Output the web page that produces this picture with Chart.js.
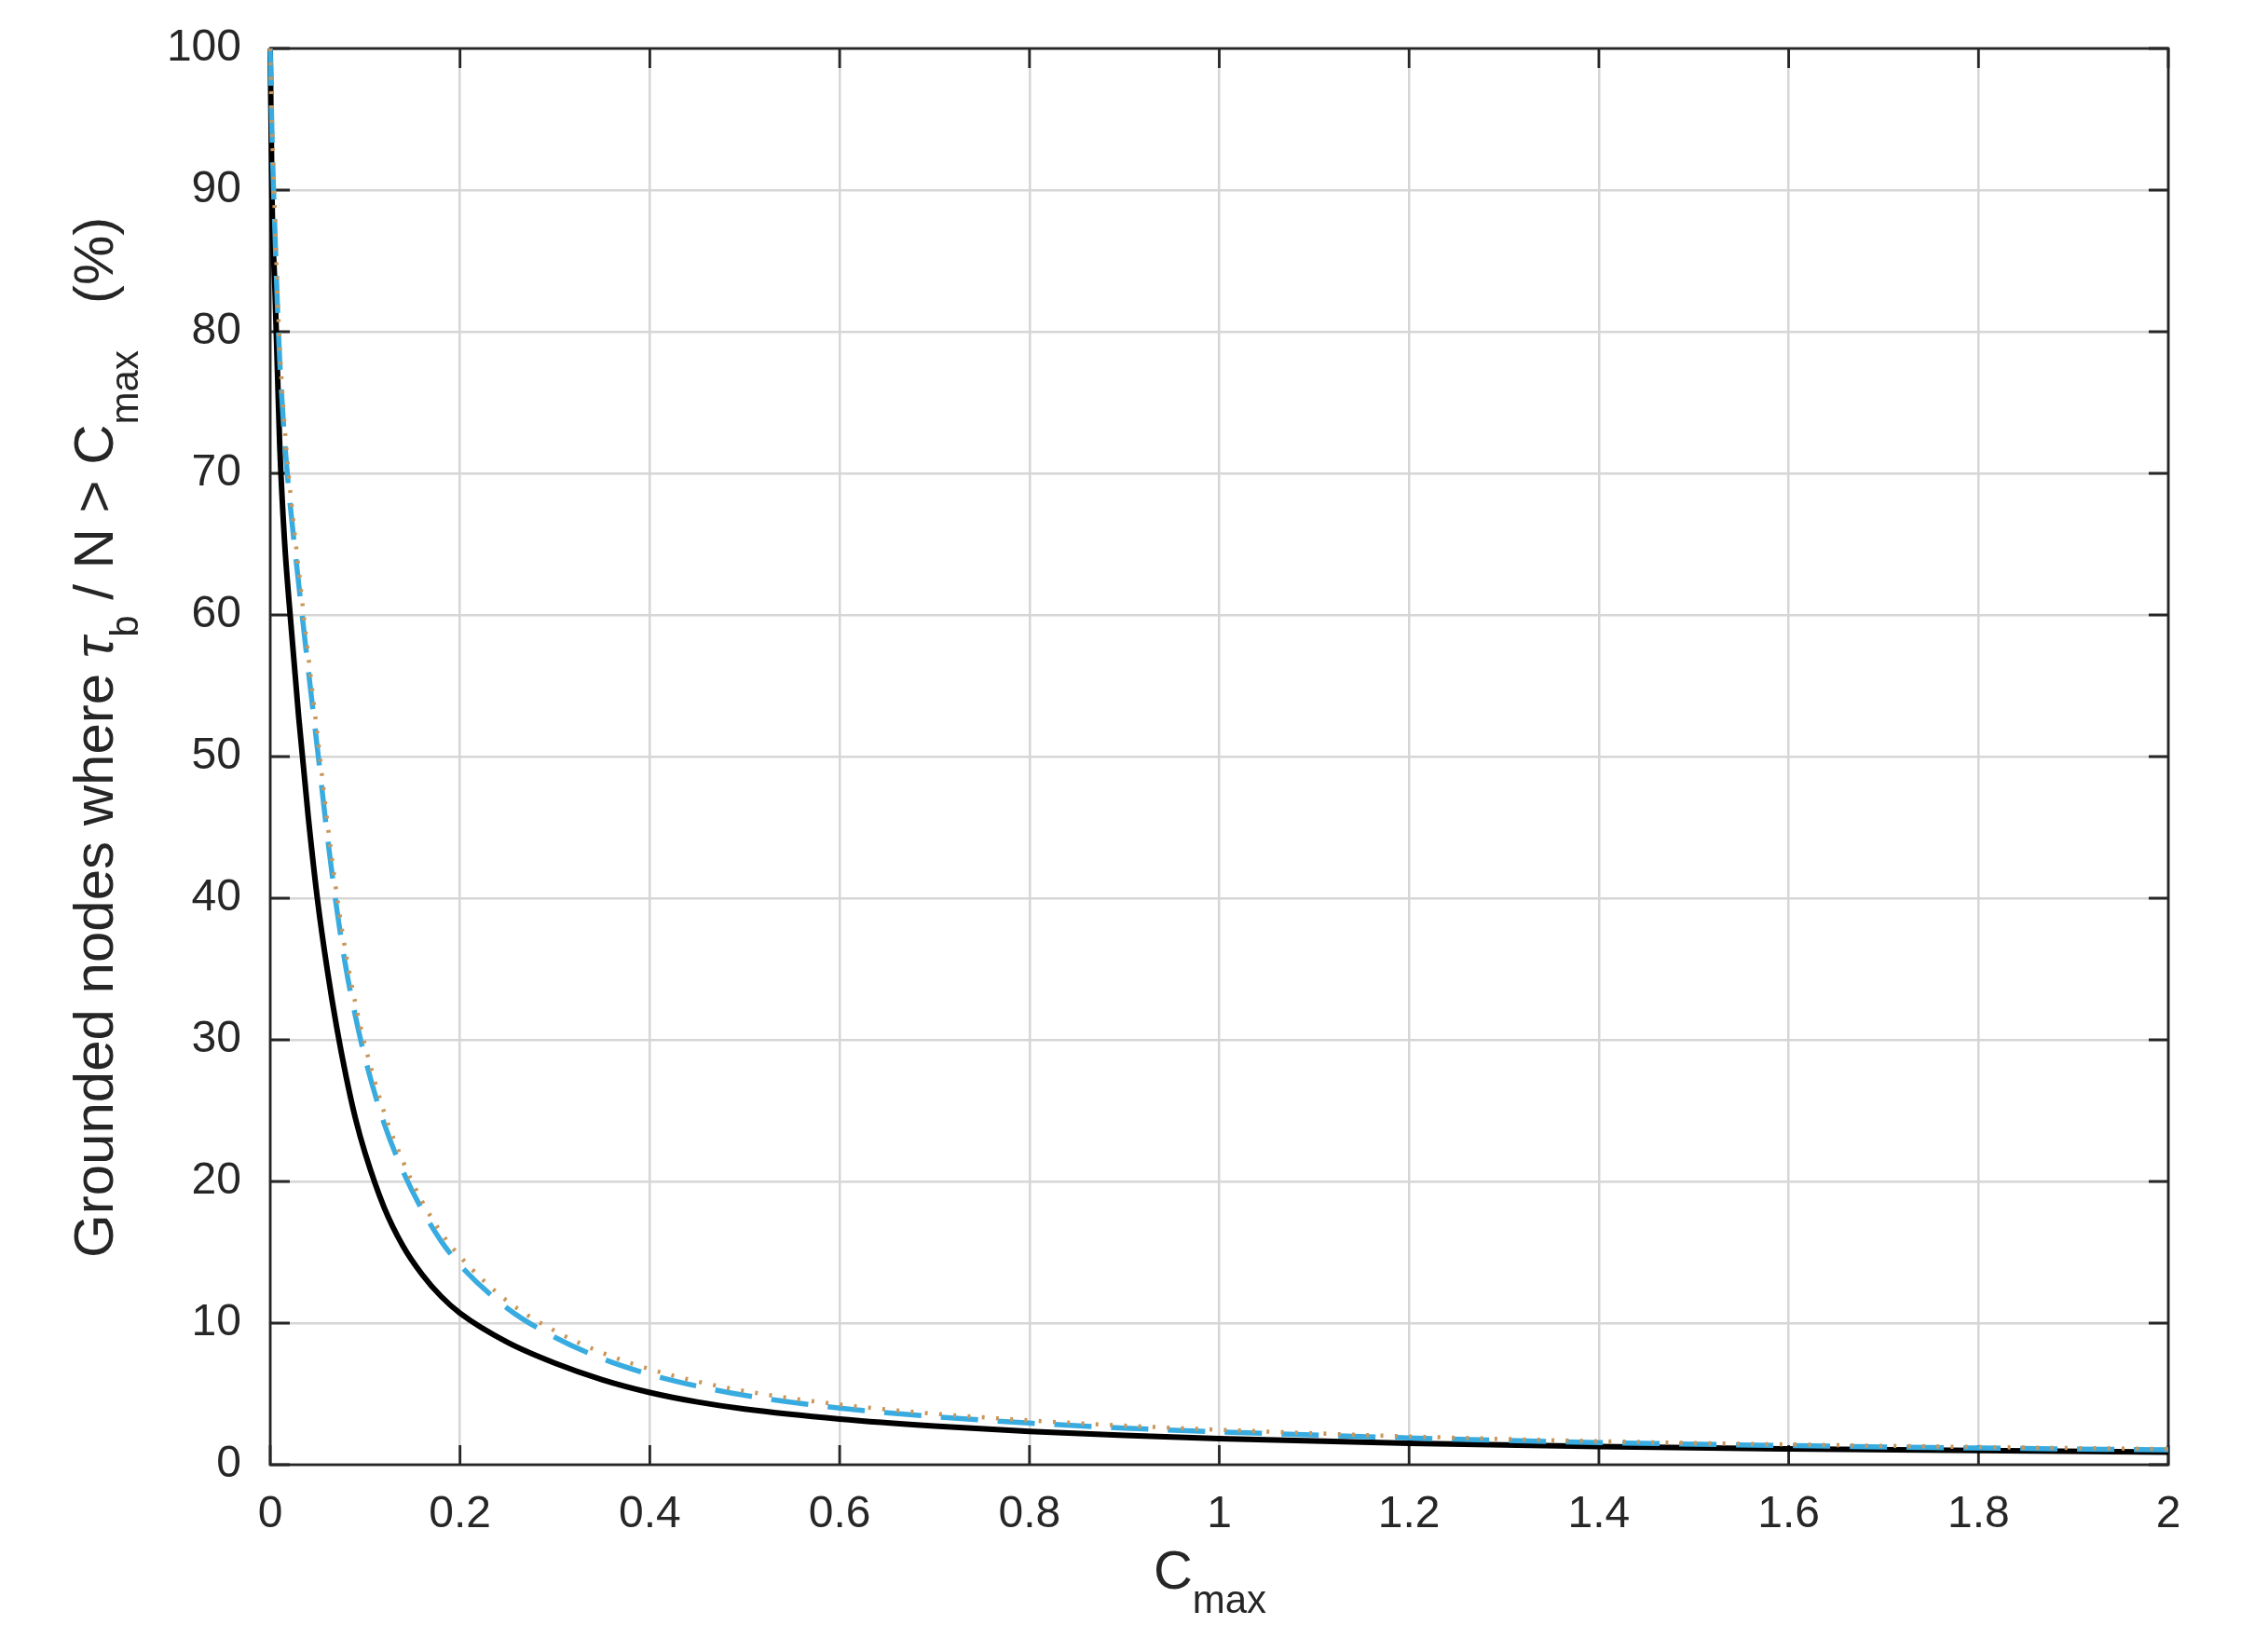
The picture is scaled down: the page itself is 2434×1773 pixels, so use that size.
<!DOCTYPE html>
<html>
<head>
<meta charset="utf-8">
<script src="https://cdn.jsdelivr.net/npm/chart.js@4.4.1/dist/chart.umd.min.js"></script>
<style>
  html, body { margin: 0; padding: 0; background: #ffffff; }
  #wrap { position: relative; width: 2434px; height: 1773px; }
</style>
</head>
<body>
<div id="wrap"><canvas id="cmaxChart"></canvas></div>
<script>
// C_max values shared by the three curves
var xValues = [0, 0.002, 0.005, 0.0075, 0.01, 0.015, 0.02, 0.03, 0.04, 0.05, 0.06, 0.07, 0.08, 0.09, 0.1,
    0.12, 0.14, 0.16, 0.18, 0.2, 0.25, 0.3, 0.35, 0.4, 0.45, 0.5, 0.6, 0.7, 0.8, 0.9, 1.0, 1.2, 1.4, 1.6, 1.8, 2.0];

// % of grounded nodes, one list per curve
var solidValues = [100, 89, 83, 77.5, 72, 65.3, 60.8, 52.8, 45.8, 39.8, 35.0, 30.9, 27.4, 24.4, 22.0,
    18.17, 15.43, 13.44, 11.89, 10.7, 8.64, 7.17, 6.0, 5.1, 4.43, 3.93, 3.23, 2.73, 2.35, 2.07, 1.85, 1.52, 1.28, 1.12, 1.0, 0.89];
var dashedValues = [100, 93.5, 87, 82, 78, 72.5, 68.5, 62.2, 56.2, 50.4, 44.5, 39.3, 35.0, 31.6, 28.7,
    24.1, 20.7, 18.0, 15.8, 14.1, 11.04, 9.0, 7.49, 6.38, 5.55, 4.9, 4.0, 3.39, 2.94, 2.59, 2.32, 1.89, 1.57, 1.35, 1.18, 1.05];
var dottedValues = [100, 94.3, 88, 83, 79, 73.5, 69.5, 63.2, 57.2, 51.4, 45.5, 40.3, 36.0, 32.5, 29.6,
    24.9, 21.4, 18.6, 16.4, 14.7, 11.55, 9.45, 7.9, 6.75, 5.88, 5.2, 4.25, 3.6, 3.13, 2.76, 2.47, 2.0, 1.66, 1.43, 1.25, 1.11];

var xTicks = [0, 0.2, 0.4, 0.6, 0.8, 1, 1.2, 1.4, 1.6, 1.8, 2];
var xTickLabels = ['0', '0.2', '0.4', '0.6', '0.8', '1', '1.2', '1.4', '1.6', '1.8', '2'];
var yTicks = [0, 10, 20, 30, 40, 50, 60, 70, 80, 90, 100];
var yTickLabels = ['0', '10', '20', '30', '40', '50', '60', '70', '80', '90', '100'];

var axisColor = '#262626';
var fontFamily = '"Liberation Sans", Arial, Helvetica, sans-serif';

function toPoints(values) {
    return xValues.map(function (x, i) { return { x: x, y: values[i] }; });
}

// box with inward ticks on all four sides, drawn under the curves
var boxPlugin = {
    id: 'box',
    beforeDatasetsDraw: function (chart) {
        var ctx = chart.ctx, a = chart.chartArea;
        var xs = chart.scales.x, ys = chart.scales.y;
        var len = 21;
        ctx.save();
        ctx.strokeStyle = axisColor;
        ctx.lineWidth = 2.8;
        ctx.strokeRect(a.left, a.top, a.right - a.left, a.bottom - a.top);
        ctx.beginPath();
        xTicks.forEach(function (v) {
            var px = xs.getPixelForValue(v);
            ctx.moveTo(px, a.bottom); ctx.lineTo(px, a.bottom - len);
            ctx.moveTo(px, a.top); ctx.lineTo(px, a.top + len);
        });
        yTicks.forEach(function (v) {
            var py = ys.getPixelForValue(v);
            ctx.moveTo(a.left, py); ctx.lineTo(a.left + len, py);
            ctx.moveTo(a.right, py); ctx.lineTo(a.right - len, py);
        });
        ctx.stroke();
        ctx.restore();
    }
};

// axis titles with subscripts
var titlePlugin = {
    id: 'titles',
    afterDraw: function (chart) {
        var ctx = chart.ctx, a = chart.chartArea;
        var big = '58px ' + fontFamily, small = '42px ' + fontFamily;
        ctx.save();
        ctx.fillStyle = axisColor;
        ctx.textBaseline = 'alphabetic';
        ctx.textAlign = 'left';

        // x title: C_max
        ctx.font = big;
        var wC = ctx.measureText('C').width;
        ctx.font = small;
        var wMax = ctx.measureText('max').width;
        var x0 = (a.left + a.right) / 2 - (wC + wMax) / 2 - 10;
        var base = a.bottom + 133;
        ctx.font = big;
        ctx.fillText('C', x0, base);
        ctx.font = small;
        ctx.fillText('max', x0 + wC, base + 26);

        // y title, rotated
        var yBig = '60px ' + fontFamily, ySmall = '42px ' + fontFamily;
        ctx.translate(121, 1350);
        ctx.rotate(-Math.PI / 2);
        var parts = [
            { t: 'Grounded nodes where ', f: yBig, dy: 0 },
            { t: '\u03C4', f: 'italic 60px ' + fontFamily, dy: 0 },
            { t: 'b', f: ySmall, dy: 27 },
            { t: ' / N > C', f: yBig, dy: 0 },
            { t: 'max', f: ySmall, dy: 27 },
            { t: '   (%)', f: yBig, dy: 0 }
        ];
        var pos = 0;
        parts.forEach(function (p) {
            ctx.font = p.f;
            ctx.fillText(p.t, pos, p.dy);
            pos += ctx.measureText(p.t).width;
        });
        ctx.restore();
    }
};

new Chart(document.getElementById('cmaxChart'), {
    type: 'line',
    data: {
        datasets: [{
            label: 'solid',
            data: toPoints(solidValues),
            borderColor: '#000000',
            borderWidth: 6,
            pointRadius: 0,
            cubicInterpolationMode: 'monotone',
            clip: 8,
            order: 3
        }, {
            label: 'dashed',
            data: toPoints(dashedValues),
            borderColor: '#38ACE0',
            borderWidth: 5.5,
            borderDash: [40, 21],
            pointRadius: 0,
            cubicInterpolationMode: 'monotone',
            clip: 8,
            order: 2
        }, {
            label: 'dotted',
            data: toPoints(dottedValues),
            borderColor: '#C9975B',
            borderWidth: 4.5,
            borderDash: [3, 12.3],
            pointRadius: 0,
            cubicInterpolationMode: 'monotone',
            clip: 8,
            order: 1
        }]
    },
    options: {
        responsive: true,
        maintainAspectRatio: false,
        animation: false,
        devicePixelRatio: 1,
        layout: {
            autoPadding: false,
            padding: { top: 52, right: 107, left: 0, bottom: 0 }
        },
        plugins: {
            legend: { display: false },
            tooltip: { enabled: false }
        },
        scales: {
            x: {
                type: 'linear',
                min: 0,
                max: 2,
                afterBuildTicks: function (scale) {
                    scale.ticks = xTicks.map(function (v) { return { value: v }; });
                },
                afterFit: function (scale) { scale.height = 201; },
                border: { display: false },
                grid: {
                    color: '#d6d6d6',
                    lineWidth: 2.5,
                    drawTicks: false
                },
                ticks: {
                    autoSkip: false,
                    maxRotation: 0,
                    padding: 25,
                    color: axisColor,
                    font: { family: fontFamily, size: 48 },
                    callback: function (value, index) { return xTickLabels[index]; }
                }
            },
            y: {
                type: 'linear',
                min: 0,
                max: 100,
                afterBuildTicks: function (scale) {
                    scale.ticks = yTicks.map(function (v) { return { value: v }; });
                },
                afterFit: function (scale) { scale.width = 290; },
                border: { display: false },
                grid: {
                    color: '#d6d6d6',
                    lineWidth: 2.5,
                    drawTicks: true,
                    tickLength: 31,
                    tickColor: 'rgba(0,0,0,0)'
                },
                ticks: {
                    autoSkip: false,
                    padding: 0,
                    color: axisColor,
                    font: { family: fontFamily, size: 48 },
                    callback: function (value, index) { return yTickLabels[index]; }
                }
            }
        }
    },
    plugins: [boxPlugin, titlePlugin]
});
</script>
</body>
</html>
